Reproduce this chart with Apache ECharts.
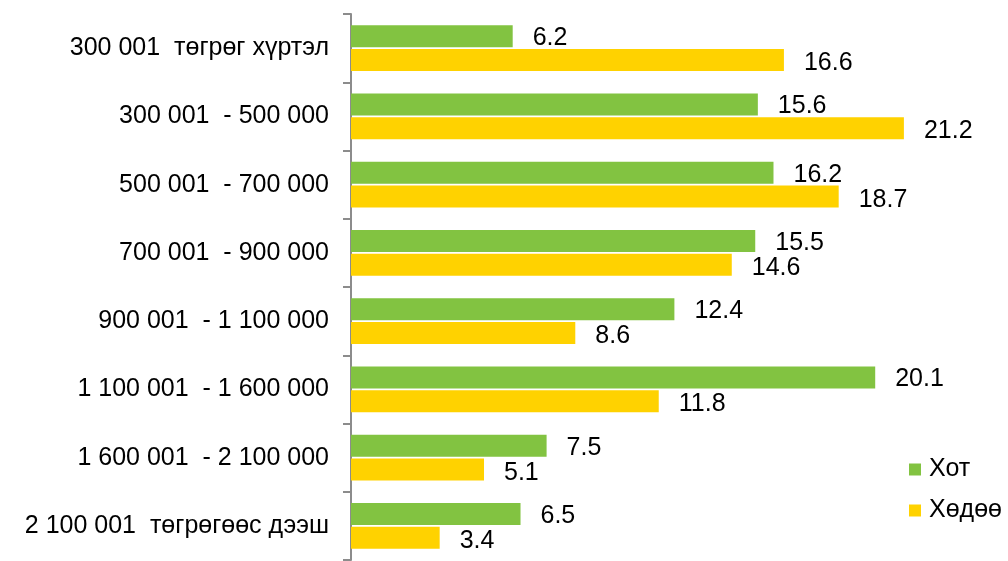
<!DOCTYPE html>
<html>
<head>
<meta charset="utf-8">
<script src="https://cdn.jsdelivr.net/npm/echarts@6/dist/echarts.min.js"></script>
<style>
  html, body { margin: 0; padding: 0; background: #fff; }
  #main { width: 1008px; height: 561px; }
</style>
</head>
<body>
<div id="main"></div>
<script>
const categories = [
  '300 001  төгрөг хүртэл',
  '300 001  - 500 000',
  '500 001  - 700 000',
  '700 001  - 900 000',
  '900 001  - 1 100 000',
  '1 100 001  - 1 600 000',
  '1 600 001  - 2 100 000',
  '2 100 001  төгрөгөөс дээш'
]
const hot = [6.2, 15.6, 16.2, 15.5, 12.4, 20.1, 7.5, 6.5]
const khuduu = [16.6, 21.2, 18.7, 14.6, 8.6, 11.8, 5.1, 3.4]

const font = '"Liberation Sans", Arial, sans-serif'
const labelStyle = {
  show: true,
  position: 'right',
  distance: 20,
  color: '#000',
  fontSize: 25,
  fontFamily: font
}

const chart = echarts.init(document.getElementById('main'))
chart.setOption({
  animation: false,
  legend: {
    orient: 'vertical',
    left: 904,
    top: 452,
    itemWidth: 12,
    itemHeight: 12,
    itemGap: 16,
    icon: 'rect',
    textStyle: { fontSize: 25, fontFamily: font, color: '#000', padding: [0, 0, 0, 3] },
    data: ['Хот', 'Хөдөө']
  },
  grid: { left: 351, top: 14, bottom: 1, width: 652 },
  xAxis: {
    type: 'value',
    min: 0,
    max: 25,
    show: false
  },
  yAxis: {
    type: 'category',
    inverse: true,
    data: categories,
    axisLine: { show: true, lineStyle: { color: '#8c8c8c', width: 2 } },
    axisTick: { show: true, length: 8, lineStyle: { color: '#8c8c8c', width: 2 } },
    axisLabel: { color: '#000', fontSize: 25, fontFamily: font, margin: 22 }
  },
  series: [
    {
      name: 'Хот',
      type: 'bar',
      data: hot,
      barWidth: 22,
      barGap: '9%',
      itemStyle: { color: '#82c341' },
      label: Object.assign({}, labelStyle, { offset: [0, 2] })
    },
    {
      name: 'Хөдөө',
      type: 'bar',
      data: khuduu,
      barWidth: 22,
      itemStyle: { color: '#ffd200' },
      label: Object.assign({}, labelStyle, { offset: [0, 3] })
    }
  ]
})
</script>
</body>
</html>
